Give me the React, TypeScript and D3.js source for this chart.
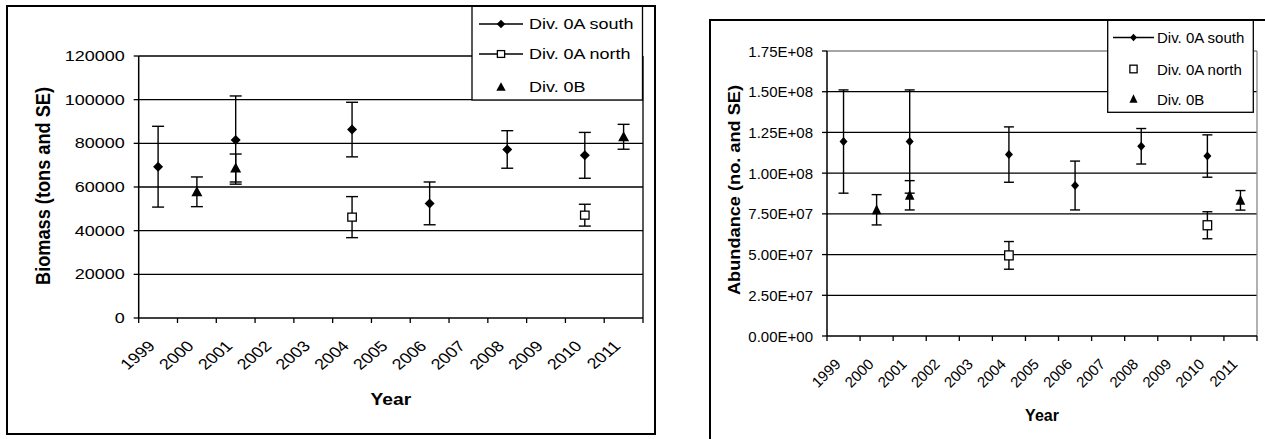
import * as d3 from "d3";

interface Estimate {
  year: string;
  value: number;
  se: number;
}

const years = ["1999", "2000", "2001", "2002", "2003", "2004", "2005", "2006", "2007", "2008", "2009", "2010", "2011"];

// biomass (tons), left panel
const biomassSouth: Estimate[] = [
  { year: "1999", value: 69300, se: 18500 },
  { year: "2001", value: 81500, se: 20200 },
  { year: "2004", value: 86300, se: 12500 },
  { year: "2006", value: 52500, se: 9800 },
  { year: "2008", value: 77200, se: 8600 },
  { year: "2010", value: 74500, se: 10500 },
];
const biomassNorth: Estimate[] = [
  { year: "2004", value: 46200, se: 9400 },
  { year: "2010", value: 47100, se: 5000 },
];
const biomass0B: Estimate[] = [
  { year: "2000", value: 57800, se: 6800 },
  { year: "2001", value: 68700, se: 6400 },
  { year: "2011", value: 83000, se: 5700 },
];
const biomassTicks = [0, 20000, 40000, 60000, 80000, 100000, 120000];

// abundance (numbers), right panel
const abundanceSouth: Estimate[] = [
  { year: "1999", value: 1.194e8, se: 3.17e7 },
  { year: "2001", value: 1.194e8, se: 3.17e7 },
  { year: "2004", value: 1.114e8, se: 1.7e7 },
  { year: "2006", value: 9.24e7, se: 1.5e7 },
  { year: "2008", value: 1.165e8, se: 1.09e7 },
  { year: "2010", value: 1.105e8, se: 1.3e7 },
];
const abundanceNorth: Estimate[] = [
  { year: "2004", value: 4.95e7, se: 8.5e6 },
  { year: "2010", value: 6.8e7, se: 8.3e6 },
];
const abundance0B: Estimate[] = [
  { year: "2000", value: 7.75e7, se: 9.3e6 },
  { year: "2001", value: 8.64e7, se: 9e6 },
  { year: "2011", value: 8.33e7, se: 6e6 },
];
const abundanceTicks = [0, 2.5e7, 5e7, 7.5e7, 1e8, 1.25e8, 1.5e8, 1.75e8];
const abundanceTickLabels = ["0.00E+00", "2.50E+07", "5.00E+07", "7.50E+07", "1.00E+08", "1.25E+08", "1.50E+08", "1.75E+08"];

const legendLabels = ["Div. 0A south", "Div. 0A north", "Div. 0B"];

const FONT = "'Liberation Sans', Arial, sans-serif";

type Shape = "diamond" | "square" | "triangle";

function Marker({ shape, cx, cy, w, h }: { shape: Shape; cx: number; cy: number; w: number; h: number }) {
  const rx = w / 2;
  const ry = h / 2;
  if (shape === "diamond") {
    return <path d={`M${cx},${cy - ry}L${cx + rx},${cy}L${cx},${cy + ry}L${cx - rx},${cy}Z`} fill="#000" />;
  }
  if (shape === "triangle") {
    return <path d={`M${cx},${cy - ry * 1.1}L${cx + rx},${cy + ry * 0.9}L${cx - rx},${cy + ry * 0.9}Z`} fill="#000" />;
  }
  return <rect x={cx - rx} y={cy - ry} width={w} height={h} fill="#fff" stroke="#000" strokeWidth={1.3} />;
}

function SText({ x, y, sx = 1, rotate = 0, anchor = "start", size = 15, bold = false, baseline, children, textLength }: any) {
  return (
    <text
      transform={`translate(${x},${y}) scale(${sx},1) rotate(${rotate})`}
      textAnchor={anchor}
      fontSize={size}
      fontWeight={bold ? "bold" : "normal"}
      fontFamily={FONT}
      dominantBaseline={baseline}
      textLength={textLength}
      lengthAdjust={textLength ? "spacingAndGlyphs" : undefined}
      fill="#000"
    >
      {children}
    </text>
  );
}

interface PanelProps {
  x0: number;
  x1: number;
  yTop: number;
  yBottom: number;
  yMax: number;
  ticks: number[];
  tickLabels: string[];
  sx: number;
  south: Estimate[];
  north: Estimate[];
  b0: Estimate[];
  capW: number;
  markers: Record<Shape, [number, number]>;
  topGridColor: string;
  borderColor: string;
  yTitle: string;
  yTitleX: number;
  yTitleY: number;
  yTitleLength: number;
  yearY: number;
  legend: { x: number; y: number; w: number; h: number; rows: number[]; lineX0: number; lineX1: number; textX: number; northLine: boolean };
}

function Panel(p: PanelProps) {
  const x = d3.scaleBand<string>().domain(years).range([p.x0, p.x1]);
  const y = d3.scaleLinear().domain([0, p.yMax]).range([p.yBottom, p.yTop]);
  const cx = (yr: string) => (x(yr) ?? 0) + x.bandwidth() / 2;
  const tickXs = years.map((yr) => x(yr) ?? 0).concat([p.x1]);

  const series: [Estimate[], Shape][] = [
    [p.south, "diamond"],
    [p.north, "square"],
    [p.b0, "triangle"],
  ];

  const legendShapes: Shape[] = ["diamond", "square", "triangle"];
  const lg = p.legend;
  const midX = (lg.lineX0 + lg.lineX1) / 2;

  return (
    <g>
      {/* gridlines */}
      {p.ticks.slice(1).map((t, i) => (
        <line
          key={t}
          x1={p.x0}
          x2={p.x1}
          y1={y(t)}
          y2={y(t)}
          stroke={i === p.ticks.length - 2 ? p.topGridColor : "#000"}
          strokeWidth={1.3}
        />
      ))}
      <line x1={p.x1} x2={p.x1} y1={p.yTop} y2={p.yBottom} stroke={p.borderColor} strokeWidth={1.3} />
      {/* axes */}
      <line x1={p.x0} x2={p.x0} y1={p.yTop} y2={p.yBottom} stroke="#000" strokeWidth={1.5} />
      <line x1={p.x0} x2={p.x1} y1={p.yBottom} y2={p.yBottom} stroke="#000" strokeWidth={1.5} />
      {p.ticks.map((t, i) => (
        <g key={t}>
          <line x1={p.x0 - 5} x2={p.x0} y1={y(t)} y2={y(t)} stroke="#000" strokeWidth={1.3} />
          <SText x={p.x0 - 14} y={y(t)} sx={p.sx} anchor="end" baseline="central">
            {p.tickLabels[i]}
          </SText>
        </g>
      ))}
      {tickXs.map((tx, i) => (
        <line key={i} x1={tx} x2={tx} y1={p.yBottom} y2={p.yBottom + 5} stroke="#000" strokeWidth={1.3} />
      ))}
      {years.map((yr) => (
        <SText key={yr} x={cx(yr) - 2} y={p.yBottom + 29} sx={p.sx} rotate={-45} anchor="end">
          {yr}
        </SText>
      ))}
      <SText x={(p.x0 + p.x1) / 2} y={p.yearY} sx={p.sx} anchor="middle" bold size={16}>
        Year
      </SText>
      <SText x={p.yTitleX} y={p.yTitleY} sx={p.sx} rotate={-90} anchor="middle" bold size={17} textLength={p.yTitleLength}>
        {p.yTitle}
      </SText>
      {/* error bars and markers */}
      {series.map(([rows, shape]) =>
        rows.map((d) => {
          const px = cx(d.year);
          const top = y(d.value + d.se);
          const bot = y(d.value - d.se);
          const [mw, mh] = p.markers[shape];
          return (
            <g key={shape + d.year}>
              <line x1={px} x2={px} y1={top} y2={bot} stroke="#000" strokeWidth={1.4} />
              <line x1={px - p.capW / 2} x2={px + p.capW / 2} y1={top} y2={top} stroke="#000" strokeWidth={1.4} />
              <line x1={px - p.capW / 2} x2={px + p.capW / 2} y1={bot} y2={bot} stroke="#000" strokeWidth={1.4} />
              <Marker shape={shape} cx={px} cy={y(d.value)} w={mw} h={mh} />
            </g>
          );
        })
      )}
      {/* legend */}
      <rect x={lg.x} y={lg.y} width={lg.w} height={lg.h} fill="#fff" stroke="#000" strokeWidth={1.3} />
      {legendLabels.map((label, i) => {
        const ry = lg.rows[i];
        const shape = legendShapes[i];
        const withLine = i === 0 || (i === 1 && lg.northLine);
        const [mw, mh] = p.markers[shape];
        return (
          <g key={label}>
            {withLine && <line x1={lg.lineX0} x2={lg.lineX1} y1={ry} y2={ry} stroke="#000" strokeWidth={1.3} />}
            <Marker shape={shape} cx={midX} cy={ry} w={shape === "triangle" ? mw * 0.85 : mw * 0.85} h={shape === "triangle" ? mh * 0.85 : mh * 0.85} />
            <SText x={lg.textX} y={ry} sx={p.sx} baseline="central">
              {label}
            </SText>
          </g>
        );
      })}
    </g>
  );
}

export default function App() {
  return (
    <svg
      width={1265}
      height={439}
      style={{ position: "absolute", left: 0, top: 0, background: "#fff" }}
    >
      <rect x={0} y={0} width={1265} height={439} fill="#fff" />
      <Panel
        x0={138.7}
        x1={643}
        yTop={56}
        yBottom={318}
        yMax={120000}
        ticks={biomassTicks}
        tickLabels={biomassTicks.map((t) => String(t))}
        sx={1.2}
        south={biomassSouth}
        north={biomassNorth}
        b0={biomass0B}
        capW={12}
        markers={{ diamond: [10, 10], square: [8.5, 8], triangle: [11, 10] }}
        topGridColor="#000"
        borderColor="#000"
        yTitle="Biomass (tons and SE)"
        yTitleX={50}
        yTitleY={186}
        yTitleLength={198}
        yearY={405}
        legend={{ x: 472, y: 6, w: 170.5, h: 94, rows: [24, 54, 87], lineX0: 479, lineX1: 523, textX: 529, northLine: true }}
      />
      <rect x={7} y={6} width={648} height={428} fill="none" stroke="#000" strokeWidth={2} />

      <Panel
        x0={827}
        x1={1257}
        yTop={51}
        yBottom={336}
        yMax={1.75e8}
        ticks={abundanceTicks}
        tickLabels={abundanceTickLabels}
        sx={1}
        south={abundanceSouth}
        north={abundanceNorth}
        b0={abundance0B}
        capW={10}
        markers={{ diamond: [8, 9], square: [8.5, 9], triangle: [9.5, 10] }}
        topGridColor="#888"
        borderColor="#888"
        yTitle="Abundance (no. and SE)"
        yTitleX={740}
        yTitleY={190}
        yTitleLength={210}
        yearY={421}
        legend={{ x: 1107.7, y: 20, w: 145.6, h: 92.3, rows: [37.5, 69, 99], lineX0: 1113, lineX1: 1154, textX: 1157, northLine: false }}
      />
      <rect x={710} y={20} width={620} height={500} fill="none" stroke="#000" strokeWidth={2} />
    </svg>
  );
}
